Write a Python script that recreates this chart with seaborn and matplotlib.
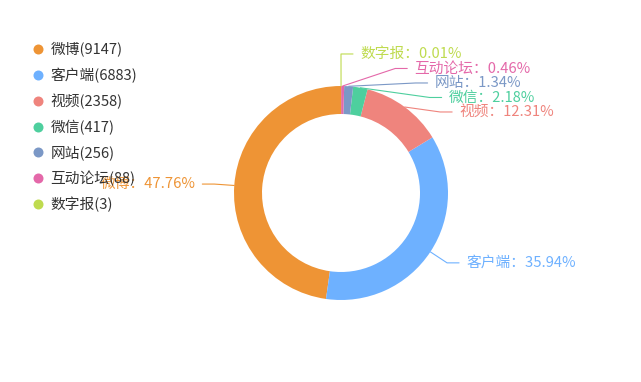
import numpy as np
import matplotlib
matplotlib.use("Agg")
import matplotlib.pyplot as plt
import seaborn as sns
from matplotlib.lines import Line2D

sns.set_theme(style="white")
plt.rcParams['font.family'] = ['Noto Sans CJK SC', 'DejaVu Sans']

categorias = ['微博', '客户端', '视频', '微信', '网站', '互动论坛', '数字报']
quantidades = [9147, 6883, 2358, 417, 256, 88, 3]
cores = ['#EE9435', '#6EB1FF', '#EF847D', '#4ECF9E', '#7B98C6', '#E468A9', '#BFDB4F']


def percentuais_2casas(valores):
    # maior resto: os percentuais com 2 casas somam 100
    brutos = np.array(valores, dtype=float) / sum(valores) * 10000
    base = np.floor(brutos)
    falta = int(round(10000 - base.sum()))
    ordem = np.argsort(-(brutos - base))
    base[ordem[:falta]] += 1
    return base / 100


percentuais = percentuais_2casas(quantidades)

# escala: pixels por unidade de raio
escala = 107
cx_px, cy_px = 341, 193
W, H = 641, 382

fig = plt.figure(figsize=(W / 100, H / 100), dpi=100)
ax = fig.add_axes([0, 0, 1, 1])

wedges, _ = ax.pie(quantidades, colors=cores, startangle=90, radius=1,
                   wedgeprops=dict(width=28 / escala, linewidth=0))

ax.set_xlim(-cx_px / escala, (W - cx_px) / escala)
ax.set_ylim(-(H - cy_px) / escala, cy_px / escala)
ax.set_aspect('equal', adjustable='box')
ax.axis('off')

r1 = 1 + 20 / escala      # cotovelo das linhas livres
rL = 1 + 15 / escala      # raio usado para arrumar rótulos agrupados
len2 = 12 / escala
folga = 7 / escala
passo = 14.5 / escala

itens = []
for w, nome, pct, cor in zip(wedges, categorias, percentuais, cores):
    ang = np.deg2rad((w.theta1 + w.theta2) / 2)
    itens.append(dict(nome=nome, pct=pct, cor=cor,
                      x0=np.cos(ang), y0=np.sin(ang),
                      xe=r1 * np.cos(ang), ye=r1 * np.sin(ang), yn=rL * np.sin(ang),
                      dir=1 if np.cos(ang) >= 0 else -1))


def arrumar(cl):
    meio = (cl[0]['yn'] + cl[-1]['yn']) / 2
    n = len(cl)
    for k, it in enumerate(cl):
        it['ye'] = meio + (n - 1) / 2 * passo - k * passo


def espalhar(grupo):
    # afasta rótulos sobrepostos do mesmo lado
    grupo = sorted(grupo, key=lambda d: -d['yn'])
    clusters = [[it] for it in grupo]
    mudou = True
    while mudou:
        mudou = False
        for i in range(len(clusters) - 1):
            if clusters[i][-1]['ye'] - clusters[i + 1][0]['ye'] < passo - 1e-9:
                clusters[i] = clusters[i] + clusters.pop(i + 1)
                arrumar(clusters[i])
                mudou = True
                break
    for cl in clusters:
        if len(cl) < 2:
            continue
        rB = max(abs(it['ye']) for it in cl)
        for it in cl:
            it['xe'] = it['dir'] * rL * np.sqrt(max(0.0, 1 - it['ye'] ** 2 / rB ** 2))


espalhar([it for it in itens if it['dir'] > 0])
espalhar([it for it in itens if it['dir'] < 0])

for it in itens:
    d = it['dir']
    ax.plot([it['x0'], it['xe'], it['xe'] + d * len2],
            [it['y0'], it['ye'], it['ye']], color=it['cor'], lw=0.8)
    ax.text(it['xe'] + d * (len2 + folga), it['ye'],
            f"{it['nome']}：{it['pct']:.2f}%",
            ha='left' if d > 0 else 'right', va='center',
            fontsize=10.6, color=it['cor'])

handles = [Line2D([], [], marker='o', linestyle='none', markersize=7.2,
                  markerfacecolor=c, markeredgewidth=0) for c in cores]
rotulos = [f"{n}({q})" for n, q in zip(categorias, quantidades)]
fig.legend(handles, rotulos, loc='upper left',
           bbox_to_anchor=(32 / W, 1 - 42.5 / H), frameon=False, fontsize=10.6,
           handlelength=0.8, handletextpad=0.45, labelspacing=0.71,
           borderpad=0, borderaxespad=0, labelcolor='#333333')

fig.savefig("out.png", dpi=100)
